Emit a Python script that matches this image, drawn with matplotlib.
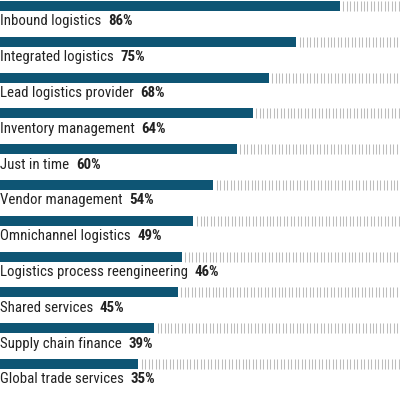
import numpy as np
import matplotlib
matplotlib.use("Agg")
import matplotlib.pyplot as plt

categories = ["Inbound logistics", "Integrated logistics", "Lead logistics provider",
              "Inventory management", "Just in time", "Vendor management",
              "Omnichannel logistics", "Logistics process reengineering",
              "Shared services", "Supply chain finance", "Global trade services"]
values = [86, 75, 68, 64, 60, 54, 49, 46, 45, 39, 35]
pct_labels = [f"{v}%" for v in values]

BAR = "#0e5574"
TICK = "#bdbdbd"
TXT = "#222222"
fam = ["Liberation Sans Narrow", "Roboto Condensed", "Liberation Sans", "DejaVu Sans"]

fig = plt.figure(figsize=(4.0, 3.95), dpi=100)
ax = fig.add_axes([0, 0, 1, 1])
ax.set_xlim(0, 101.3)
pitch = 35.8
ax.set_ylim((395 - 6) / pitch, -6 / pitch)
ax.axis("off")

h = 10 / pitch
step = 0.88
for i, (cat, v, p) in enumerate(zip(categories, values, pct_labels)):
    ax.barh(i, v, height=h, color=BAR, left=0)
    xs = np.arange(v + 0.9, 101.3, step)
    ax.vlines(xs, i - h / 2, i + h / 2, colors=TICK, linewidth=0.75)
    t = ax.text(0.1, i + 0.54, cat, fontsize=10.7, family=fam, color=TXT,
                va="baseline", ha="left")
    ax.annotate(p, xy=(1, 0), xycoords=t, xytext=(4.5, 0),
                textcoords="offset points", fontsize=10.7, family=fam,
                fontweight="bold", color=TXT, va="bottom", ha="left")

fig.savefig("out.png", dpi=100)
